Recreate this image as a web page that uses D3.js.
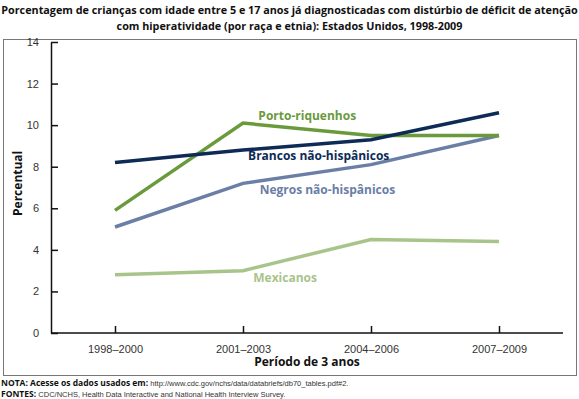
<!DOCTYPE html>
<html>
<head>
<meta charset="utf-8">
<script src="https://cdn.jsdelivr.net/npm/d3@7"></script>
<style>
  body { margin: 0; background: #fff; }
  svg { display: block; }
</style>
</head>
<body>
<div id="container"></div>
<script>
"use strict";

const periods = ["1998–2000", "2001–2003", "2004–2006", "2007–2009"];
const yTicks = [0, 2, 4, 6, 8, 10, 12, 14];

const portoRiquenhos = [5.9, 10.1, 9.5, 9.5];
const brancos = [8.2, 8.8, 9.3, 10.6];
const negros = [5.1, 7.2, 8.1, 9.5];
const mexicanos = [2.8, 3.0, 4.5, 4.4];

const seriesNames = ["Mexicanos", "Negros não-hispânicos", "Porto-riquenhos", "Brancos não-hispânicos"];
const seriesValues = [mexicanos, negros, portoRiquenhos, brancos];
const seriesColors = ["#a9c48b", "#6a7ea6", "#6a9a3c", "#0d2b55"];
// label anchor: [period offset, value] in data space
const labelAt = [[1.08, 2.45], [1.13, 6.69], [1.12, 10.25], [1.04, 8.32]];

const width = 579, height = 399;
const margin = { left: 51, right: 16, top: 42, bottom: 66 };

const svg = d3.create("svg").attr("width", width).attr("height", height);

// Frame
svg.append("rect")
  .attr("x", 3.5).attr("y", 39.5)
  .attr("width", 573).attr("height", 336)
  .attr("fill", "none").attr("stroke", "#777").attr("stroke-width", 1);

// Title
const title = svg.append("text")
  .attr("text-anchor", "middle")
  .style("font-family", "'Open Sans', sans-serif")
  .style("font-weight", "bold")
  .style("font-size", "10.8px")
  .attr("fill", "#111");
title.append("tspan").attr("x", width / 2).attr("y", 14)
  .text("Porcentagem de crianças com idade entre 5 e 17 anos já diagnosticadas com distúrbio de déficit de atenção");
title.append("tspan").attr("x", width / 2).attr("y", 30)
  .text("com hiperatividade (por raça e etnia): Estados Unidos, 1998-2009");

const x = d3.scalePoint()
  .domain(periods)
  .range([margin.left, width - margin.right])
  .padding(0.5);

const y = d3.scaleLinear()
  .domain([0, 14])
  .range([height - margin.bottom, margin.top]);

// Axes
const xAxis = svg.append("g")
  .attr("transform", `translate(0, ${y(0)})`)
  .call(d3.axisBottom(x).tickSizeInner(-7).tickSizeOuter(0).tickPadding(12));
const yAxis = svg.append("g")
  .attr("transform", `translate(${margin.left}, 0)`)
  .call(d3.axisLeft(y).tickValues(yTicks).tickSizeInner(-7).tickSizeOuter(0).tickPadding(12));

[xAxis, yAxis].forEach((g) => {
  g.select(".domain").attr("stroke", "#111").attr("stroke-width", 1.5);
  g.selectAll(".tick line").attr("stroke", "#111").attr("stroke-width", 1.5);
  g.selectAll(".tick text")
    .style("font-family", "'Liberation Sans', Arial, sans-serif")
    .style("font-size", "11px")
    .attr("fill", "#333");
});
xAxis.select(".domain").attr("d", `M${margin.left},0H${width - margin.right}`);

// Lines
const line = d3.line()
  .x((d, i) => x(periods[i]))
  .y((d) => y(d));

svg.selectAll(".series")
  .data(seriesValues)
  .enter()
  .append("path")
  .attr("class", "series")
  .attr("fill", "none")
  .attr("stroke", (d, i) => seriesColors[i])
  .attr("stroke-width", 3.5)
  .attr("d", line);

// Series labels
const step = x.step();
svg.selectAll(".series-label")
  .data(seriesNames)
  .enter()
  .append("text")
  .attr("class", "series-label")
  .attr("x", (d, i) => x(periods[0]) + labelAt[i][0] * step)
  .attr("y", (d, i) => y(labelAt[i][1]))
  .style("font-family", "'Open Sans', sans-serif")
  .style("font-weight", "bold")
  .style("font-size", "12px")
  .attr("fill", (d, i) => seriesColors[i])
  .text((d) => d);

// Axis titles
svg.append("text")
  .attr("transform", `translate(22, ${y(7.2)}) rotate(-90)`)
  .attr("text-anchor", "middle")
  .style("font-family", "'Open Sans', sans-serif")
  .style("font-weight", "bold")
  .style("font-size", "12px")
  .attr("fill", "#111")
  .text("Percentual");

svg.append("text")
  .attr("x", (x(periods[1]) + x(periods[2])) / 2)
  .attr("y", 366)
  .attr("text-anchor", "middle")
  .style("font-family", "'Open Sans', sans-serif")
  .style("font-weight", "bold")
  .style("font-size", "12px")
  .attr("fill", "#111")
  .text("Período de 3 anos");

// Notes
const note = (yPos, label, rest) => {
  const t = svg.append("text").attr("x", 1).attr("y", yPos);
  t.append("tspan")
    .style("font-family", "'Open Sans', sans-serif")
    .style("font-weight", "bold")
    .style("font-size", "8.5px")
    .attr("fill", "#111")
    .text(label);
  t.append("tspan")
    .style("font-family", "'Liberation Sans', Arial, sans-serif")
    .style("font-size", "7.5px")
    .attr("fill", "#333")
    .text(rest);
};
note(386, "NOTA: Acesse os dados usados em: ", "http://www.cdc.gov/nchs/data/databriefs/db70_tables.pdf#2.");
note(397, "FONTES: ", "CDC/NCHS, Health Data Interactive and National Health Interview Survey.");

d3.select("#container").append(() => svg.node());
</script>
</body>
</html>
